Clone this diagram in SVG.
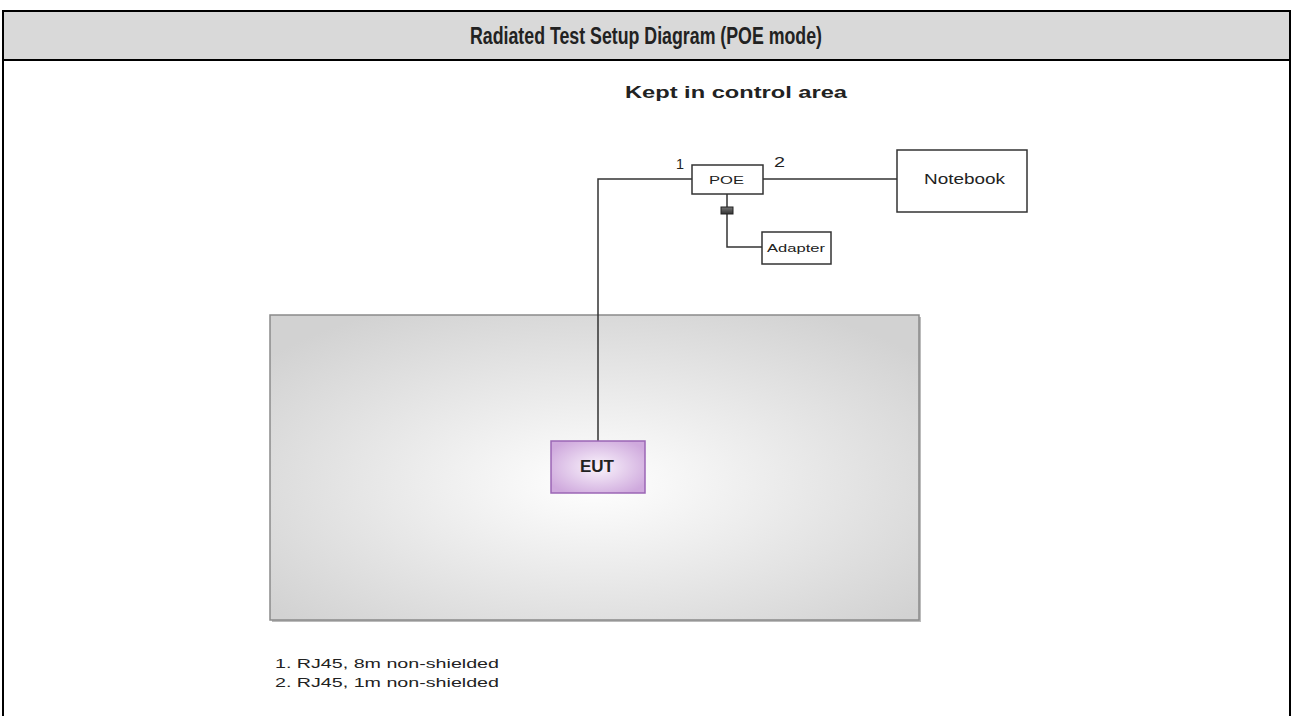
<svg xmlns="http://www.w3.org/2000/svg" width="1293" height="716" viewBox="0 0 1293 716">
<style>
.t{font-family:"Liberation Sans",Arial,sans-serif;fill:#222}
.box{fill:#fff;stroke:#333;stroke-width:1.5}
.wire{fill:none;stroke:#333;stroke-width:1.5}
</style>
<defs>
<radialGradient id="room" cx="0.5" cy="0.55" r="0.65">
<stop offset="0" stop-color="#ffffff"/>
<stop offset="1" stop-color="#d2d2d2"/>
</radialGradient>
<radialGradient id="eut" cx="0.5" cy="0.5" r="0.6">
<stop offset="0" stop-color="#faf4fc"/>
<stop offset="1" stop-color="#cfa9dd"/>
</radialGradient>
<linearGradient id="plug" x1="0" y1="0" x2="0" y2="1">
<stop offset="0" stop-color="#777"/>
<stop offset="1" stop-color="#333"/>
</linearGradient>
</defs>
<rect width="1293" height="716" fill="#fff"/>
<g id="frame">
<rect x="2" y="11" width="1288" height="49" fill="#d9d9d9"/>
<line x1="2" y1="11" x2="1291" y2="11" stroke="#000" stroke-width="2"/>
<line x1="2" y1="60" x2="1291" y2="60" stroke="#000" stroke-width="2"/>
<line x1="3" y1="10" x2="3" y2="716" stroke="#000" stroke-width="2"/>
<line x1="1290" y1="10" x2="1290" y2="716" stroke="#000" stroke-width="2"/>
<text class="t" x="470" y="44" font-size="23" font-weight="bold" fill="#000" textLength="352" lengthAdjust="spacingAndGlyphs">Radiated Test Setup Diagram (POE mode)</text>
</g>
<text class="t" x="625" y="98" font-size="17" font-weight="bold" textLength="222" lengthAdjust="spacingAndGlyphs">Kept in control area</text>
<g id="room-area">
<rect x="272" y="317" width="649" height="305" fill="#bbb"/>
<rect x="270" y="315" width="649" height="305" fill="url(#room)" stroke="#8a8a8a" stroke-width="1.5"/>
</g>
<g id="connectors">
<polyline class="wire" points="692,179 598,179 598,441"/>
<line class="wire" x1="763" y1="179" x2="897" y2="179"/>
<polyline class="wire" points="727,194 727,247 762,247"/>
<rect x="721" y="207" width="12" height="7" fill="url(#plug)" stroke="#222" stroke-width="1"/>
<text class="t" x="676" y="169" font-size="15" textLength="8" lengthAdjust="spacingAndGlyphs">1</text>
<text class="t" x="774" y="167" font-size="15" textLength="11" lengthAdjust="spacingAndGlyphs">2</text>
</g>
<g id="poe">
<rect class="box" x="692" y="165" width="71" height="29"/>
<text class="t" x="709" y="184" font-size="11" textLength="35" lengthAdjust="spacingAndGlyphs">POE</text>
</g>
<g id="adapter">
<rect class="box" x="762" y="232" width="69" height="32"/>
<text class="t" x="767" y="252" font-size="11" textLength="58" lengthAdjust="spacingAndGlyphs">Adapter</text>
</g>
<g id="notebook">
<rect class="box" x="897" y="150" width="130" height="62"/>
<text class="t" x="924" y="184" font-size="14" fill="#444" textLength="81" lengthAdjust="spacingAndGlyphs">Notebook</text>
</g>
<g id="eut-node">
<rect x="551" y="441" width="94" height="52" fill="url(#eut)" stroke="#9b66b5" stroke-width="1.5"/>
<text class="t" x="580" y="472" font-size="16" font-weight="bold" fill="#333" textLength="34" lengthAdjust="spacingAndGlyphs">EUT</text>
</g>
<g id="notes">
<text class="t" x="275" y="668" font-size="13" fill="#333" textLength="224" lengthAdjust="spacingAndGlyphs">1. RJ45, 8m non-shielded</text>
<text class="t" x="275" y="687" font-size="13" fill="#333" textLength="224" lengthAdjust="spacingAndGlyphs">2. RJ45, 1m non-shielded</text>
</g>
</svg>
